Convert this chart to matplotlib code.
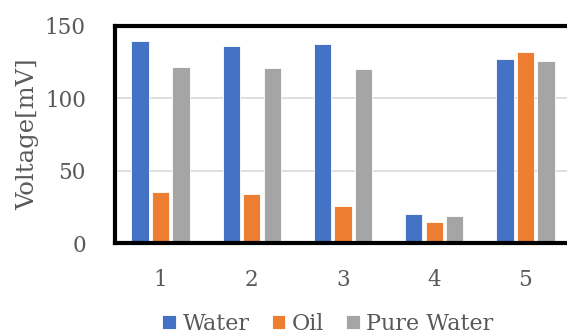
import numpy as np
import matplotlib
matplotlib.use("Agg")
import matplotlib.pyplot as plt

# values
categories = ["1", "2", "3", "4", "5"]
water = [139.6, 136.1, 137.5, 20.0, 126.9]
oil = [35.2, 34.1, 25.8, 14.3, 131.8]
pure_water = [121.4, 120.7, 120.0, 18.4, 125.6]
series_names = ["Water", "Oil", "Pure Water"]
colors = ["#4472C4", "#ED7D31", "#A5A5A5"]
yticks = [0, 50, 100, 150]

plt.rcParams["font.family"] = ["DejaVu Serif"]
text_color = "#595959"

fig = plt.figure(figsize=(5.67, 3.36), dpi=100)
ax = fig.add_axes([115 / 567, 1 - 243 / 336, 456 / 567, 217 / 336])

x = np.arange(1, len(categories) + 1)
step = 0.225
width = 0.19
for i, (vals, name, col) in enumerate(zip([water, oil, pure_water], series_names, colors)):
    ax.bar(x + (i - 1) * step, vals, width=width, color=col, label=name,
           edgecolor="white", linewidth=0.6, zorder=3)

ax.set_xlim(0.5, 5.5)
ax.set_ylim(0, 150)
ax.set_xticks(x)
ax.set_xticklabels(categories)
ax.set_yticks(yticks)
ax.yaxis.grid(True, color="#D9D9D9", linewidth=1.2, zorder=0)
ax.tick_params(axis="both", length=0, labelsize=15.5, labelcolor=text_color)
ax.tick_params(axis="y", pad=21)
ax.tick_params(axis="x", pad=19)
for s in ax.spines.values():
    s.set_linewidth(3)
    s.set_color("black")
    s.set_zorder(4)

ax.set_ylabel("Voltage[mV]", fontsize=17.5, color=text_color, labelpad=4)

fig.legend(loc="center", bbox_to_anchor=(328 / 567, 1 - 324 / 336), ncol=3,
           frameon=False, fontsize=16, handlelength=0.6, handleheight=0.6,
           handletextpad=0.3, columnspacing=1.0, labelcolor=text_color)

fig.savefig("out.png", dpi=100)
